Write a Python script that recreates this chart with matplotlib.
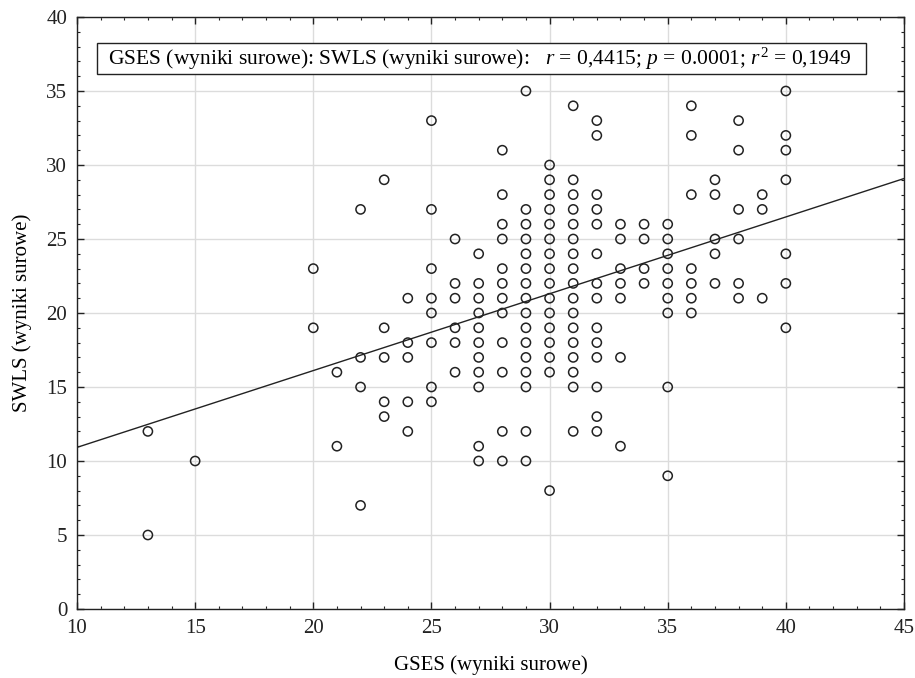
import numpy as np
import matplotlib
matplotlib.use("Agg")
import matplotlib.pyplot as plt
from matplotlib.ticker import MultipleLocator
from matplotlib.patches import Rectangle

plt.rcParams['font.family'] = ['Liberation Serif', 'DejaVu Serif']
plt.rcParams['mathtext.fontset'] = 'custom'
plt.rcParams['mathtext.rm'] = 'Liberation Serif'
plt.rcParams['mathtext.it'] = 'Liberation Serif:italic'

# GSES score -> list of SWLS scores observed at that GSES value
gses_values = [13, 15, 20, 21, 22, 23, 24, 25, 26, 27, 28, 29, 30, 31, 32, 33, 34, 35, 36, 37, 38, 39, 40]
swls_by_gses = [
    [12, 5],
    [10],
    [23, 19],
    [16, 11],
    [27, 17, 15, 7],
    [29, 19, 17, 14, 13],
    [21, 18, 17, 14, 12],
    [33, 27, 23, 21, 20, 18, 15, 14],
    [25, 22, 21, 19, 18, 16],
    [24, 22, 21, 20, 19, 18, 17, 16, 15, 11, 10],
    [31, 28, 26, 25, 23, 22, 21, 20, 18, 16, 12, 10],
    [35, 27, 26, 25, 24, 23, 22, 21, 20, 19, 18, 17, 16, 15, 12, 10],
    [30, 29, 28, 27, 26, 25, 24, 23, 22, 21, 20, 19, 18, 17, 16, 8],
    [34, 29, 28, 27, 26, 25, 24, 23, 22, 21, 20, 19, 18, 17, 16, 15, 12],
    [33, 32, 28, 27, 26, 24, 22, 21, 19, 18, 17, 15, 13, 12],
    [26, 25, 23, 22, 21, 17, 11],
    [26, 25, 23, 22],
    [26, 25, 24, 23, 22, 21, 20, 15, 9],
    [34, 32, 28, 23, 22, 21, 20],
    [29, 28, 25, 24, 22],
    [33, 31, 27, 25, 22, 21],
    [28, 27, 21],
    [35, 32, 31, 29, 24, 22, 19],
]

fit_intercept = 5.73
fit_slope = 0.519

x_ticks = [10, 15, 20, 25, 30, 35, 40, 45]
y_ticks = [0, 5, 10, 15, 20, 25, 30, 35, 40]
x_label = "GSES (wyniki surowe)"
y_label = "SWLS (wyniki surowe)"
stat_text = "GSES (wyniki surowe): SWLS (wyniki surowe):   $r$ = 0,4415; $p$ = 0.0001; $r^2$ = 0,1949"

xs = []
ys = []
for g, lst in zip(gses_values, swls_by_gses):
    for s in lst:
        xs.append(g)
        ys.append(s)

fig = plt.figure(figsize=(9.15, 6.78), dpi=100)
ax = fig.add_axes([77/915, 1 - 609/678, (904 - 77)/915, (609 - 17)/678])

ax.set_xlim(10, 45)
ax.set_ylim(0, 40)
ax.set_xticks(x_ticks)
ax.set_yticks(y_ticks)
ax.xaxis.set_minor_locator(MultipleLocator(1))
ax.yaxis.set_minor_locator(MultipleLocator(1))
ax.grid(True, which='major', color='#dcdcdc', linewidth=1.0)
ax.set_axisbelow(True)

ax.tick_params(which='both', direction='in', top=True, right=True, labelsize=15, colors='#222222')
ax.tick_params(axis='x', which='major', pad=7)
ax.tick_params(axis='y', which='major', pad=7)
ax.tick_params(which='major', length=5, width=1.0)
ax.tick_params(which='minor', length=2.5, width=0.8)
for sp in ax.spines.values():
    sp.set_linewidth(1.0)
    sp.set_color('#222222')

ax.scatter(xs, ys, s=44, facecolors='none', edgecolors='#222222', linewidths=1.1, zorder=3)

xl = np.array([10, 45])
ax.plot(xl, fit_intercept + fit_slope * xl, color='#222222', linewidth=1.0, zorder=2)

ax.set_xlabel(x_label, fontsize=15)
ax.set_ylabel(y_label, fontsize=15)
ax.xaxis.set_label_coords(0.5, -0.078)
ax.yaxis.set_label_coords(-0.055, 0.5)

ax.add_patch(Rectangle((0.0242, 0.9037), 0.954 - 0.0242, 0.956 - 0.9037, transform=ax.transAxes,
                       facecolor='white', edgecolor='#222222', linewidth=1.0, zorder=5))
ax.text(0.0375, 0.930, stat_text, transform=ax.transAxes, fontsize=15.5, va='center', ha='left',
        zorder=6)

fig.savefig("out.png", dpi=100)
